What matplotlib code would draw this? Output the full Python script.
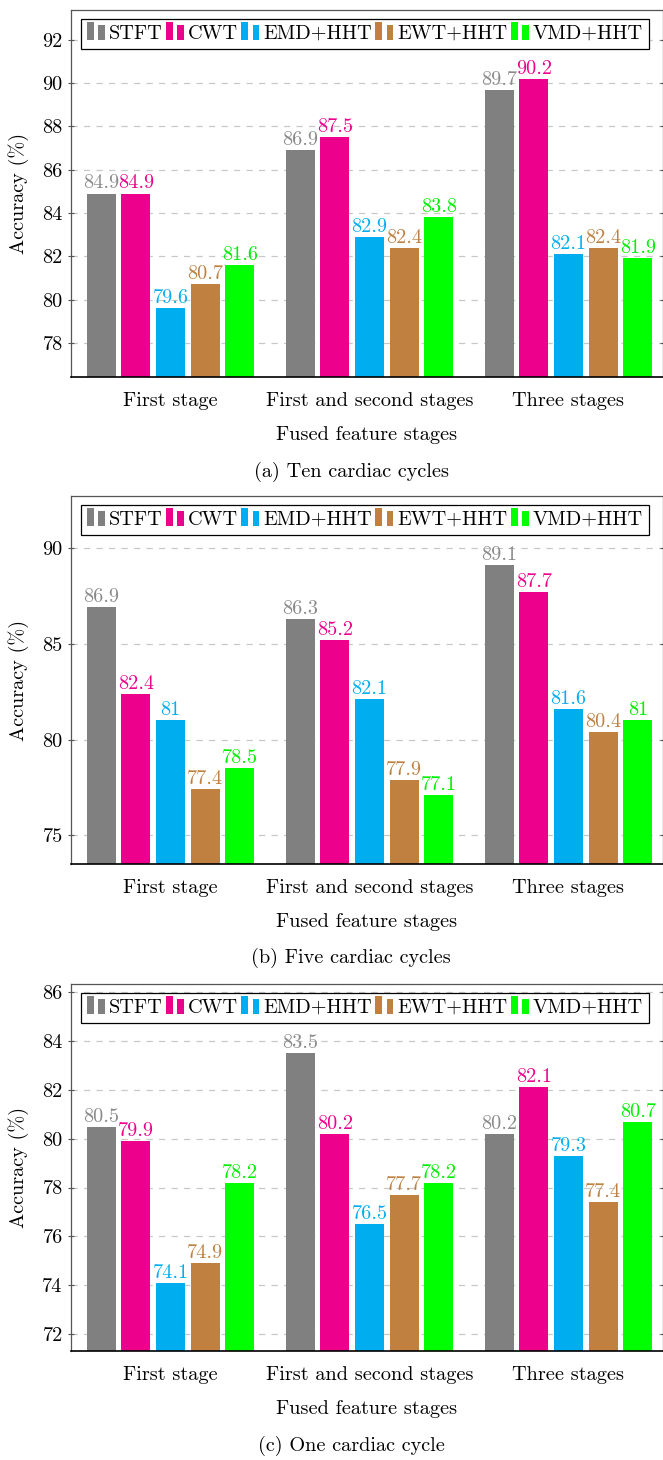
import matplotlib
matplotlib.use('Agg')
import matplotlib.pyplot as plt
import numpy as np
from matplotlib.patches import Patch, Rectangle
from matplotlib.legend_handler import HandlerBase

plt.rcParams['font.family'] = ['cmr10']
plt.rcParams['mathtext.fontset'] = 'cm'
plt.rcParams['axes.unicode_minus'] = False
plt.rcParams['axes.formatter.use_mathtext'] = True

# ---- data -------------------------------------------------------------
stages = ['First stage', 'First and second stages', 'Three stages']
methods = ['STFT', 'CWT', 'EMD+HHT', 'EWT+HHT', 'VMD+HHT']

# rows: methods, columns: stages
acc_ten = [
    [84.9, 86.9, 89.7],
    [84.9, 87.5, 90.2],
    [79.6, 82.9, 82.1],
    [80.7, 82.4, 82.4],
    [81.6, 83.8, 81.9],
]
acc_five = [
    [86.9, 86.3, 89.1],
    [82.4, 85.2, 87.7],
    [81, 82.1, 81.6],
    [77.4, 77.9, 80.4],
    [78.5, 77.1, 81],
]
acc_one = [
    [80.5, 83.5, 80.2],
    [79.9, 80.2, 82.1],
    [74.1, 76.5, 79.3],
    [74.9, 77.7, 77.4],
    [78.2, 78.2, 80.7],
]
ticks_ten = [78, 80, 82, 84, 86, 88, 90, 92]
ticks_five = [75, 80, 85, 90]
ticks_one = [72, 74, 76, 78, 80, 82, 84, 86]
captions = ['(a) Ten cardiac cycles', '(b) Five cardiac cycles', '(c) One cardiac cycle']

# ---- style ------------------------------------------------------------
bar_colors = ['#808080', '#EC008C', '#00AEEF', '#BF8040', '#00FF00']
text_colors = ['#8a8a8a', '#EC008C', '#00AEEF', '#BF8040', '#00EE00']
FS = 14.6

W, H = 663, 1460
fig = plt.figure(figsize=(W / 100, H / 100), dpi=100)


class TwoBarHandler(HandlerBase):
    """Legend key drawn as two small bars of unequal height."""

    def create_artists(self, legend, orig_handle, xdescent, ydescent,
                       width, height, fontsize, trans):
        color = orig_handle.get_facecolor()
        bw = width * 0.38
        y0 = -ydescent - 1.0
        r1 = Rectangle((-xdescent, y0), bw, height * 1.3,
                       facecolor=color, edgecolor='none', transform=trans)
        r2 = Rectangle((-xdescent + width - bw, y0), bw, height * 1.05,
                       facecolor=color, edgecolor='none', transform=trans)
        return [r1, r2]


panels = [
    (acc_ten, (76.43, 93.37), ticks_ten, 10, 377, 472),
    (acc_five, (73.51, 92.71), ticks_five, 496, 864, 958),
    (acc_one, (71.30, 86.34), ticks_one, 984, 1351, 1446),
]

left_px, right_px = 71, 662.5
center0, group_step = 170.5, 199.0
bar_step = 34.7 / group_step
bar_w = 29.0 / group_step
x_lo = (left_px - center0) / group_step
x_hi = (right_px - center0) / group_step

for (data, ylim, yticks, top_px, bot_px, cap_px), caption in zip(panels, captions):
    ax = fig.add_axes([left_px / W, 1 - bot_px / H,
                       (right_px - left_px) / W, (bot_px - top_px) / H])
    x = np.arange(len(stages))
    for i, (vals, col, tcol) in enumerate(zip(data, bar_colors, text_colors)):
        pos = x + (i - 2) * bar_step
        ax.bar(pos, vals, width=bar_w, color=col, edgecolor='none', zorder=2)
        for px, v in zip(pos, vals):
            ax.annotate(f'{v:g}', xy=(px, v), xytext=(0, 3.6),
                        textcoords='offset points', ha='center', va='baseline',
                        color=tcol, fontsize=FS, zorder=3)

    ax.set_xlim(x_lo, x_hi)
    ax.set_ylim(*ylim)
    ax.set_yticks(yticks)
    ax.set_yticklabels([str(t) for t in yticks])
    ax.set_xticks(x)
    ax.set_xticklabels(stages)
    ax.tick_params(axis='x', length=0, pad=10.5, labelsize=FS)
    ax.tick_params(axis='y', direction='inout', length=5, width=0.8,
                   color='#555555', labelsize=FS, pad=3.5, right=True)
    ax.yaxis.grid(True, color='#c8c8c8', linestyle=(0, (5, 5)), linewidth=0.9, zorder=0)
    ax.set_axisbelow(True)
    for side in ('left', 'top', 'right'):
        ax.spines[side].set_color('#555555')
        ax.spines[side].set_linewidth(0.9)
    ax.spines['bottom'].set_color('black')
    ax.spines['bottom'].set_linewidth(1.2)

    ax.set_xlabel('Fused feature stages', fontsize=FS, labelpad=12)
    ax.set_ylabel('Accuracy (%)', fontsize=FS)
    ax.yaxis.set_label_coords((29 - left_px) / (right_px - left_px), 0.5)

    handles = [Patch(facecolor=c, label=m) for c, m in zip(bar_colors, methods)]
    leg = ax.legend(handles=handles, handler_map={Patch: TwoBarHandler()},
                    loc='upper left', ncol=5, fontsize=FS,
                    bbox_to_anchor=(81 / W, 1 - (top_px + 9) / H),
                    bbox_transform=fig.transFigure,
                    handlelength=0.9, handletextpad=0.2, columnspacing=0.15,
                    borderpad=0.28, borderaxespad=0, fancybox=False,
                    framealpha=1, edgecolor='black')
    leg.get_frame().set_linewidth(0.9)
    leg.set_zorder(5)

    fig.text(351 / W, 1 - cap_px / H, caption, ha='center', va='center', fontsize=FS)

fig.savefig('out.png', dpi=100)
